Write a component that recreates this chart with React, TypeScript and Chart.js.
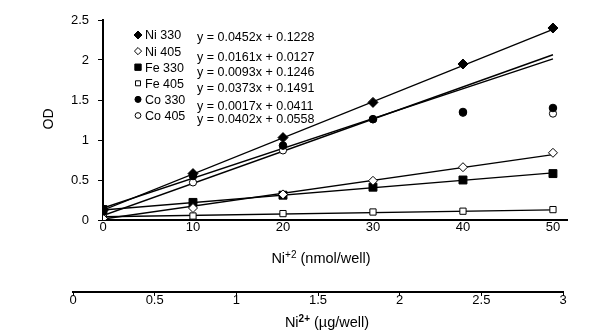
import React, { useEffect, useRef } from 'react';
import { Chart, registerables } from 'chart.js';

Chart.register(...registerables);

// ---- data ----
const xValues = [0, 10, 20, 30, 40, 50];
const seriesNames = ['Ni 330', 'Ni 405', 'Fe 330', 'Fe 405', 'Co 330', 'Co 405'];
const ni330 = [0.12, 0.58, 1.03, 1.47, 1.95, 2.4];
const ni405 = [0.02, 0.15, 0.32, 0.49, 0.66, 0.84];
const fe330 = [0.13, 0.22, 0.31, 0.41, 0.5, 0.58];
const fe405 = [0.03, 0.05, 0.08, 0.1, 0.11, 0.13];
const co330 = [0.14, 0.55, 0.93, 1.26, 1.35, 1.4];
const co405 = [0.05, 0.47, 0.87, 1.26, 1.34, 1.33];
const trendSlopes = [0.0452, 0.0161, 0.0093, 0.0017, 0.0373, 0.0402];
const trendIntercepts = [0.1228, 0.0127, 0.1246, 0.0411, 0.1491, 0.0558];
const equationOrder = [0, 1, 2, 4, 3, 5];
const trendRange = [0, 50];
const primaryTicks = [0, 10, 20, 30, 40, 50];
const yTicks = [0, 0.5, 1, 1.5, 2, 2.5];
const secondaryTicks = [0, 0.5, 1, 1.5, 2, 2.5, 3];

const FONT = "'Liberation Sans', Arial, sans-serif";

type Style = { shape: 'rectRot' | 'rect' | 'circle'; r: number; filled: boolean };
const styles: Style[] = [
  { shape: 'rectRot', r: 5, filled: true },
  { shape: 'rectRot', r: 4.5, filled: false },
  { shape: 'rect', r: 5.6, filled: true },
  { shape: 'rect', r: 4.4, filled: false },
  { shape: 'circle', r: 3.8, filled: true },
  { shape: 'circle', r: 3.6, filled: false },
];

const allSeries = [ni330, ni405, fe330, fe405, co330, co405];

function drawMarker(ctx: CanvasRenderingContext2D, s: Style, x: number, y: number, scale: number) {
  const r = s.r * scale;
  ctx.save();
  ctx.beginPath();
  if (s.shape === 'circle') {
    ctx.arc(x, y, r, 0, Math.PI * 2);
  } else if (s.shape === 'rectRot') {
    ctx.moveTo(x, y - r);
    ctx.lineTo(x + r, y);
    ctx.lineTo(x, y + r);
    ctx.lineTo(x - r, y);
    ctx.closePath();
  } else {
    const h = r * Math.SQRT1_2;
    ctx.rect(x - h, y - h, 2 * h, 2 * h);
  }
  ctx.fillStyle = s.filled ? '#000' : '#fff';
  ctx.fill();
  ctx.lineWidth = 1;
  ctx.strokeStyle = '#000';
  ctx.stroke();
  ctx.restore();
}

function drawSupText(
  ctx: CanvasRenderingContext2D,
  parts: { text: string; sup?: boolean; bold?: boolean }[],
  cx: number,
  cy: number,
  size: number
) {
  const fontFor = (p: { sup?: boolean; bold?: boolean }) =>
    `${p.bold ? 'bold ' : ''}${p.sup ? Math.round(size * 0.68) : size}px ${FONT}`;
  let total = 0;
  for (const p of parts) {
    ctx.font = fontFor(p);
    total += ctx.measureText(p.text).width;
  }
  let x = cx - total / 2;
  ctx.textBaseline = 'alphabetic';
  ctx.textAlign = 'left';
  ctx.fillStyle = '#000';
  const base = cy + size * 0.35;
  for (const p of parts) {
    ctx.font = fontFor(p);
    ctx.fillText(p.text, x, p.sup ? base - size * 0.38 : base);
    x += ctx.measureText(p.text).width;
  }
}

const mainTextPlugin = {
  id: 'mainText',
  afterDraw(chart: any) {
    const ctx: CanvasRenderingContext2D = chart.ctx;
    ctx.save();
    // legend
    seriesNames.forEach((name, i) => {
      const y = 35 + i * 16.1;
      drawMarker(ctx, styles[i], 138, y, 0.8);
      ctx.font = `12.5px ${FONT}`;
      ctx.fillStyle = '#000';
      ctx.textAlign = 'left';
      ctx.textBaseline = 'middle';
      ctx.fillText(name, 145, y + 1);
    });
    // equations
    const eqY = [38, 57.5, 73, 88.5, 106.5, 119.5];
    equationOrder.forEach((si, row) => {
      const t = `y = ${trendSlopes[si].toFixed(4)}x + ${trendIntercepts[si].toFixed(4)}`;
      ctx.font = `12.5px ${FONT}`;
      ctx.fillStyle = '#000';
      ctx.textAlign = 'left';
      ctx.textBaseline = 'middle';
      ctx.fillText(t, 197, eqY[row]);
    });
    // y title
    ctx.save();
    ctx.translate(49, 119);
    ctx.rotate(-Math.PI / 2);
    ctx.font = `14px ${FONT}`;
    ctx.textAlign = 'center';
    ctx.textBaseline = 'middle';
    ctx.fillText('OD', 0, 0);
    ctx.restore();
    // x title
    drawSupText(ctx, [{ text: 'Ni' }, { text: '+2', sup: true }, { text: ' (nmol/well)' }], 321, 258, 14.5);
    ctx.restore();
  },
};

const secondaryTextPlugin = {
  id: 'secondaryText',
  afterDraw(chart: any) {
    const ctx: CanvasRenderingContext2D = chart.ctx;
    ctx.save();
    drawSupText(
      ctx,
      [{ text: 'Ni' }, { text: '2+', sup: true, bold: true }, { text: ' (µg/well)' }],
      327,
      322,
      14.5
    );
    ctx.restore();
  },
};

const plainLabel = (v: any) => String(Number(v));

export default function App() {
  const mainRef = useRef<HTMLCanvasElement>(null);
  const secRef = useRef<HTMLCanvasElement>(null);

  useEffect(() => {
    const markerSets = allSeries.map((vals, i) => ({
      type: 'scatter' as const,
      label: seriesNames[i],
      data: xValues.map((x, j) => ({ x, y: vals[j] })),
      showLine: false,
      pointStyle: styles[i].shape,
      pointRadius: styles[i].r,
      pointBackgroundColor: styles[i].filled ? '#000' : '#fff',
      pointBorderColor: '#000',
      pointBorderWidth: 1,
    }));
    const trendSets = trendSlopes.map((m, i) => ({
      type: 'line' as const,
      label: seriesNames[i] + ' trend',
      data: trendRange.map((x) => ({ x, y: m * x + trendIntercepts[i] })),
      borderColor: '#000',
      borderWidth: 1.4,
      pointRadius: 0,
      fill: false,
    }));

    const main = new Chart(mainRef.current!, {
      type: 'scatter',
      data: { datasets: [...markerSets, ...trendSets] as any },
      options: {
        animation: false,
        responsive: false,
        maintainAspectRatio: false,
        layout: { padding: { left: 0, top: 20, right: 47, bottom: 0 } },
        plugins: { legend: { display: false }, tooltip: { enabled: false } },
        scales: {
          x: {
            type: 'linear',
            min: 0,
            max: 51.56,
            afterBuildTicks: (s: any) => {
              s.ticks = primaryTicks.map((v) => ({ value: v }));
            },
            afterFit: (s: any) => {
              s.height = 115;
            },
            ticks: {
              color: '#000',
              font: { family: FONT, size: 13 },
              padding: 0,
              maxRotation: 0,
              autoSkip: false,
              callback: plainLabel,
            },
            grid: { drawOnChartArea: false, drawTicks: false },
            border: { color: '#000', width: 2 },
          },
          y: {
            min: 0,
            max: 2.5,
            afterBuildTicks: (s: any) => {
              s.ticks = yTicks.map((v) => ({ value: v }));
            },
            afterFit: (s: any) => {
              s.width = 103;
            },
            ticks: {
              color: '#000',
              font: { family: FONT, size: 13 },
              padding: 9,
              callback: plainLabel,
            },
            grid: { drawOnChartArea: false, drawTicks: true, tickLength: 5, color: '#000' },
            border: { color: '#000', width: 2 },
          },
        },
      },
      plugins: [mainTextPlugin],
    });

    const sec = new Chart(secRef.current!, {
      type: 'scatter',
      data: { datasets: [] },
      options: {
        animation: false,
        responsive: false,
        maintainAspectRatio: false,
        layout: { padding: { left: 73, top: 0, right: 51, bottom: 0 } },
        plugins: { legend: { display: false }, tooltip: { enabled: false } },
        scales: {
          x: {
            type: 'linear',
            min: secondaryTicks[0],
            max: secondaryTicks[secondaryTicks.length - 1],
            afterBuildTicks: (s: any) => {
              s.ticks = secondaryTicks.map((v) => ({ value: v }));
            },
            afterFit: (s: any) => {
              s.height = 43;
            },
            ticks: {
              color: '#000',
              font: { family: FONT, size: 13 },
              padding: -3,
              maxRotation: 0,
              autoSkip: false,
              callback: plainLabel,
            },
            grid: { drawOnChartArea: false, drawTicks: true, tickLength: 4, color: '#000' },
            border: { color: '#000', width: 2 },
          },
          y: { display: false, min: 0, max: 1 },
        },
      },
      plugins: [secondaryTextPlugin],
    });

    return () => {
      main.destroy();
      sec.destroy();
    };
  }, []);

  return (
    <div style={{ position: 'fixed', left: 0, top: 0, width: 614, height: 335, background: '#fff' }}>
      <canvas ref={mainRef} width={614} height={335} style={{ position: 'absolute', left: 0, top: 0 }} />
      <canvas
        ref={secRef}
        width={614}
        height={335}
        style={{ position: 'absolute', left: 0, top: 0, pointerEvents: 'none' }}
      />
    </div>
  );
}
